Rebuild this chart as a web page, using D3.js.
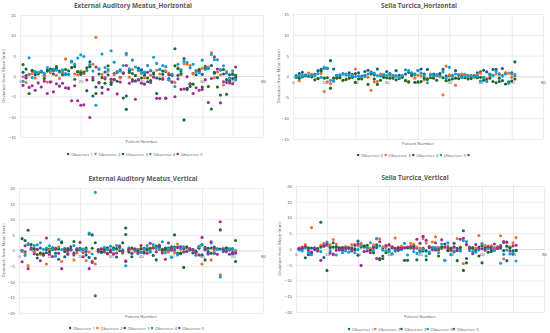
<!DOCTYPE html>
<html>
<head>
<meta charset="utf-8">
<script src="https://cdn.jsdelivr.net/npm/d3@7"></script>
<style>
  body { margin: 0; background: #fff; }
  svg { display: block; font-family: "Open Sans", Lato, sans-serif; }
</style>
</head>
<body>
<script>
// deviation from mean (mm), one value per patient (patient number = index + 1)
const eamH_obs1 = [0.9, 0.1, 0.4, 1.2, 0.3, 0.8, 1.1, 0.2, 1.5, 1.6, 0.5, 1.8, 1.2, 0.9, 0.4, 1.3, 3.6, -0.8, 1.0, 0.4, 0.7, -3.6, 3.5, -4.9, -2.7, 0.5, -2.8, 1.0, 0.3, -2.1, 0.6, 1.1, -0.3, 0.8, -4.9, 1.4, 0.6, -1.2, 1.9, 1.5, 0.2, -1.4, 1.3, 0.8, -0.5, 1.6, 0.4, 1.1, -0.6, 0.3, 6.7, 0.2, 1.3, 4.3, -3.3, -1.9, 0.6, 0.3, 1.1, 0.4, 2.4, 1.9, 2.6, 0.7, -0.4, 1.5, 0.5, -0.9, 0.3, -0.6, 0.2];
const eamH_obs2 = [-0.2, -1.6, 0.3, 0.6, -0.5, 0.9, 1.1, -0.1, -1.5, 0.8, 1.2, 0.2, -0.6, 1.0, 4.2, -2.9, 2.0, 0.5, 0.3, 1.2, 0.6, 1.4, 2.4, 2.9, 9.5, 1.6, 0.4, -0.3, 1.2, -0.8, 0.3, 1.0, -0.5, 0.7, 5.2, -0.3, 1.6, 0.2, 1.3, 0.6, -0.4, 2.6, 0.2, -0.2, 1.4, 0.5, -0.5, 1.3, 0.7, 0.3, -1.6, 2.0, 0.3, 3.0, 2.9, 2.6, 0.5, 1.1, 1.6, 1.9, 2.1, 2.2, 5.7, -0.4, 1.0, 0.3, -2.2, 1.1, -0.5, 0.6, -0.3];
const eamH_obs3 = [2.8, 1.7, -4.3, 1.4, 0.9, 0.5, 1.0, -0.6, 1.2, 1.7, 1.5, 2.3, 1.1, 0.3, 1.6, 0.4, 2.1, 2.3, 1.1, 0.8, 1.0, 2.0, 2.3, -1.0, -4.3, -1.6, -0.4, -1.8, 2.5, -1.6, -0.8, -1.3, 1.5, -5.4, -8.2, 0.9, -0.9, 0.1, -1.0, -0.5, 0.8, -0.5, -1.1, 0.5, -4.3, -0.7, 1.2, -5.4, -1.0, 0.2, 2.5, 1.8, 0.6, -10.8, -3.0, -2.6, -2.0, 1.3, 1.6, -2.7, 1.9, -2.6, -8.1, 0.9, -2.7, -4.7, 1.6, -4.5, -1.2, 0.4, -0.4];
const eamH_obs4 = [-1.3, -0.5, 4.5, -0.4, 1.1, 0.8, 1.2, 0.7, 2.1, 1.3, 1.7, 1.4, 0.9, 1.5, 0.6, 0.5, 3.4, 2.9, 4.4, 5.2, 4.8, 1.3, 2.8, 1.2, -7.2, 1.8, 5.4, 2.1, 1.6, 6.2, 3.4, 0.8, 1.2, 2.6, 5.6, 1.8, 3.9, 2.2, 1.4, 0.9, 1.0, 2.6, 1.4, 4.6, 3.1, 1.6, 2.6, 2.3, -0.9, 0.4, -2.6, 2.9, 1.6, 3.6, 3.3, 2.0, 2.9, 1.2, 0.8, 3.9, 1.6, 1.9, 5.3, 4.0, 4.0, 1.5, 2.5, 0.7, -0.6, 1.3, -0.9];
const eamH_obs5 = [-2.3, -0.4, -2.8, -2.4, -3.5, -1.7, -2.7, -1.3, -4.3, -1.5, -3.9, -1.9, -2.5, -1.8, -2.9, -3.1, -6.1, -2.4, -6.1, -7.2, -7.1, -1.0, -10.2, -0.4, 2.2, -1.7, -4.2, -0.7, -3.3, -0.8, -0.9, -4.4, -1.5, 0.7, 2.6, -1.8, -1.3, -5.7, -0.9, -1.8, -2.0, 0.9, -1.6, -0.3, -5.5, -5.5, -0.8, -5.5, 0.3, -1.5, -5.1, -0.7, -3.3, -3.2, -0.2, -2.0, -4.3, -2.9, -3.5, -3.3, -0.9, -6.5, -0.6, 4.7, 1.7, -6.6, -1.4, -1.6, -1.7, -1.9, 2.2];

const stH_obs1 = [0.2, 0.7, 1.0, 0.3, 0.1, 0.4, 0.5, 1.4, 1.7, 2.0, 1.9, 3.8, 1.8, 0.3, 0.2, 0.6, 0.4, 0.9, 0.5, 0.7, 0.9, 0.1, 1.2, 1.5, 0.9, 0.4, 1.8, 0.4, 0.3, 1.2, 0.7, 0.2, 1.4, 0.3, 0.1, 0.6, 1.0, 0.8, 0.6, 1.5, 1.8, 0.6, 1.7, 0.5, 0.6, 0.4, 0.3, 1.7, 0.1, 0.2, 0.3, 1.4, 0.4, 0.2, 0.5, 0.2, 0.1, 0.3, 0.9, 1.1, 1.5, 1.1, 0.6, 1.7, 1.7, -1.2, 1.9, 0.8, -1.5, 0.9, 3.5];
const stH_obs2 = [-0.1, -1.0, 0.3, 0.2, 0.8, 0.4, 0.2, -0.5, 0.7, -3.6, -1.3, -1.7, -1.2, 0.1, -0.3, -0.9, 0.4, -0.5, 0.3, 1.8, 0.1, -0.4, 0.3, -0.2, -3.3, -1.3, -1.2, 0.6, 0.2, -0.3, 0.3, -0.5, 0.2, -0.3, 0.1, -0.9, -1.3, 0.2, -0.4, 0.3, 0.1, -0.8, -0.5, 0.6, -0.2, 0.2, 0.0, -4.4, 2.5, 0.4, 0.2, -2.1, 0.3, 0.6, 0.5, -0.2, 0.1, 0.3, 0.4, 0.8, -0.3, -0.5, 0.2, 0.3, 0.6, 0.7, 0.3, 0.9, 0.8, -0.2, 0.5];
const stH_obs3 = [-0.2, -0.4, -0.1, 0.2, 0.1, -0.1, -0.8, -0.5, 1.3, -0.4, -0.3, -2.8, -0.4, -0.4, -0.3, -0.9, -0.7, -0.3, -0.2, -1.4, -0.6, -0.6, 0.1, -1.9, 0.6, -0.6, -1.9, -0.9, -0.2, -0.3, -0.4, -0.3, -0.8, -0.5, -0.2, -1.0, -1.3, 0.3, -1.4, -1.3, -1.2, -0.4, -0.7, -0.3, -0.4, -0.9, 0.7, -0.3, -1.0, -0.8, -0.6, -0.4, -0.5, -0.2, -0.3, -0.6, -0.5, -0.1, -0.3, -0.2, -0.9, -0.8, -0.4, -1.2, -1.5, -0.4, -1.0, -1.8, -1.3, -1.1, -0.6];
const stH_obs4 = [-0.1, 0.2, 0.1, 0.4, 0.1, 0.3, 0.2, 0.7, -0.2, 2.2, 2.0, -0.9, -1.0, 0.2, 0.4, 0.7, 0.6, 0.3, 0.1, 0.0, 0.1, -0.1, 0.3, 0.6, 1.1, 0.8, 0.2, 0.1, 0.5, 0.3, 0.6, 0.2, 0.1, -0.3, 0.2, 1.6, 1.4, 0.9, 0.4, 1.4, 0.8, 0.2, -1.5, 0.3, 0.2, 0.4, 0.1, 1.1, -0.3, 2.2, 0.1, 0.6, 0.4, -0.2, 0.1, 0.2, 0.3, -0.1, 0.1, -1.1, -0.2, -1.2, 0.5, 0.2, 1.2, 0.5, 0.1, 0.6, -1.6, 0.6, 0.2];
const stH_obs5 = [];

const eamV_obs1 = [0.1, -0.5, 1.9, 0.4, -0.3, -2.4, 0.8, -1.2, -0.7, 0.5, 0.3, -0.9, -2.8, 2.5, -2.0, 0.6, 1.2, -0.8, 0.4, 0.2, -0.6, -1.4, -2.2, 5.0, -2.5, 0.3, -0.4, 0.6, 0.9, -0.3, 0.4, -2.1, 1.0, -0.8, 5.1, 0.2, -2.0, 0.5, 0.3, -0.6, 0.7, 0.2, -0.5, 0.9, -3.0, 1.3, 0.4, 0.8, -0.2, 0.1, 5.0, 1.1, -1.0, 0.6, 0.9, 0.2, -0.8, -0.4, 0.7, -1.4, 1.0, -0.3, 0.8, -0.9, 0.4, 0.5, -0.3, 0.6, 0.2, -1.0, -3.5];
const eamV_obs2 = [-0.3, -1.0, -4.8, 0.4, -0.5, 0.3, -1.2, -0.9, -4.3, 0.2, 0.6, 0.8, 1.2, -3.5, 0.4, -0.5, 0.1, -3.0, -0.8, 0.6, -0.4, -3.2, -0.5, -3.4, -4.3, 0.3, 0.5, -0.2, 0.3, -0.6, -0.9, 0.5, 1.6, -0.5, -3.2, 0.1, 0.6, -0.3, 0.2, 0.5, -0.7, 0.9, 0.4, 1.1, 0.6, 0.3, -0.2, 0.1, -0.5, 0.4, -0.8, 2.1, 0.3, -0.4, 0.8, 0.3, 0.1, -0.6, 1.4, -4.3, 0.5, 0.7, -3.0, -0.3, 0.6, -7.8, 0.8, 0.4, 0.3, 0.6, 0.1];
const eamV_obs3 = [3.8, 3.2, 6.5, 1.9, 0.6, -1.3, -0.8, -1.1, 0.3, -0.4, 0.9, 0.4, 0.5, 2.8, -0.3, 0.2, 0.3, 2.9, 0.1, 0.6, 0.4, 0.8, 5.3, 0.7, 2.5, 0.2, -0.6, 0.4, -0.9, -0.3, 0.9, 0.6, -0.1, 2.5, 7.2, -0.5, 0.8, 0.4, -0.2, 0.6, -0.8, 0.3, 0.7, -1.6, 1.4, 1.7, 0.2, 0.3, 0.8, 1.2, 1.1, -0.9, -0.8, -5.4, 1.2, 0.4, 0.3, -0.2, 0.9, 1.8, -3.0, 0.7, -0.9, 1.1, 0.5, 6.6, 0.2, 0.9, 0.4, 0.5, 3.2];
const eamV_obs4 = [0.0, -1.6, 2.2, 0.6, 1.6, 1.8, 2.5, 0.4, 0.8, 1.5, 0.9, -1.8, 3.5, 0.3, 0.7, -1.3, 0.4, 1.6, 0.6, 0.3, 0.5, 0.3, 5.6, -1.1, 18.6, -0.5, 0.6, 1.0, 0.3, 1.4, 0.3, 1.6, 1.3, 0.2, -4.9, 0.9, -0.9, 0.2, -1.0, -0.5, 0.4, 1.6, -0.2, 1.9, 1.0, 0.3, 2.8, -0.7, 0.5, -2.2, 0.8, -1.4, 0.7, 1.2, -0.2, 0.5, 0.3, -1.5, 1.2, 2.0, 0.2, -1.2, 2.4, 0.4, 0.3, -8.5, 0.2, 0.1, 0.6, 0.4, -0.5];
const eamV_obs5 = [-3.6, 1.5, -5.8, 0.9, -1.1, 0.4, -3.3, -1.5, 4.0, -1.2, -1.9, 0.6, -0.9, -5.8, 0.3, -1.0, 0.4, -1.4, 0.4, 2.6, -2.0, -0.3, -5.8, -3.8, -14.5, -0.2, 0.4, -0.5, -1.1, 0.2, -1.2, -0.8, 1.2, -0.2, -3.5, 0.4, -0.9, 0.5, -0.6, 1.6, -0.4, -0.9, 2.3, 0.8, -0.4, 1.2, -0.8, -2.8, 2.4, 0.5, 0.1, 0.9, 1.3, -0.5, -0.3, 0.6, 0.2, -0.7, -1.4, 4.2, 0.4, -0.9, 2.8, 0.8, -1.2, 9.2, 0.3, -0.4, -1.2, -0.6, -0.9];

const stV_obs1 = [0.2, 0.5, 0.8, -1.8, 0.3, -0.2, 0.1, 8.5, -2.7, 1.2, 0.7, 2.0, 0.5, 0.3, -0.4, 0.6, 0.2, 0.4, -0.3, 2.5, 1.3, 0.6, 0.4, -0.2, 0.8, 0.5, -3.0, 0.3, 0.6, -0.2, 0.4, 0.2, -0.3, 0.5, 0.4, -3.6, 0.6, 1.2, 0.3, -0.5, 0.2, -0.6, 0.8, 0.4, -0.3, 0.5, 0.2, 1.6, -0.4, 0.3, 1.8, 0.2, -0.5, 5.8, -3.0, 0.4, 0.2, -0.3, 0.6, -4.4, 0.3, 0.5, -0.2, 0.4, 0.2, 0.3, 2.1, -3.7, 0.5, -1.6, -0.4];
const stV_obs2 = [0.3, 0.6, 1.4, 0.2, 6.8, 0.4, 0.3, 1.2, 1.8, 1.5, 1.3, 3.0, 1.6, 0.5, 0.4, 0.8, 0.3, 1.4, 1.1, 1.0, 1.8, 0.9, 0.5, 0.2, 1.3, 3.2, 3.2, 0.7, 0.5, 1.3, 0.8, 3.5, 0.6, 0.9, 0.5, 0.4, 1.8, 1.6, 0.6, 0.3, 3.3, 1.9, 0.4, 2.2, 3.9, 0.5, 0.3, 0.6, 1.0, -0.5, 0.4, 3.3, 0.6, -4.6, 1.3, 0.2, 0.4, 0.3, 4.3, 1.8, 1.1, 0.9, 1.0, 0.4, 0.8, 4.2, -3.1, 2.1, 0.6, 2.0, 3.6];
const stV_obs3 = [-0.2, 0.1, -2.8, 0.4, -1.2, 0.2, 0.1, 0.6, 1.2, -6.8, 0.4, 0.6, 0.8, 0.3, 0.5, 0.2, 0.4, -0.3, 0.1, -2.0, 0.6, 0.9, 1.2, -0.4, -1.2, 1.3, -3.4, -3.0, -1.2, -0.8, -1.5, -0.6, 0.3, 0.2, -3.6, 0.4, 0.3, 0.6, -3.4, -0.8, -0.6, -3.4, -1.4, 0.5, 0.3, -2.2, 0.6, -3.6, -0.5, 0.1, -0.9, -3.7, 0.4, -6.8, -4.4, 0.2, 0.4, -0.6, -2.2, 1.0, 0.4, -1.0, -0.8, -0.4, 0.3, 0.7, -0.5, 0.9, 0.4, -0.6, -0.5];
const stV_obs4 = [-0.3, -0.6, 0.4, -1.1, -1.8, 0.3, -0.4, -0.8, 1.0, 2.2, -0.6, -1.8, -1.9, -0.3, -1.2, -0.6, -1.0, -0.5, -1.2, -0.2, 1.0, -0.8, 0.4, 2.0, -0.5, 3.3, 1.0, -0.4, -0.6, -0.8, -1.6, -0.3, -0.4, -0.2, 1.8, -1.9, 0.6, -0.8, -1.4, -0.9, -0.2, -2.2, -1.0, 0.3, 0.5, -1.1, 1.5, -3.6, 2.0, -1.8, -0.7, -0.4, -0.6, 2.6, 2.4, -0.5, -0.8, -1.0, -0.3, 1.6, -0.3, 0.2, 0.6, -0.5, 0.2, -4.5, -1.7, -0.3, -1.6, -1.2, -3.8];
const stV_obs5 = [0.1, 0.4, 0.8, -0.4, -1.0, 0.2, -0.6, -3.6, 0.9, 1.6, -1.3, -1.6, -0.4, -0.2, 0.1, 0.3, 0.5, -0.6, 1.3, 1.6, -5.2, -0.8, -0.6, -1.2, 0.4, -3.0, 2.3, -2.2, 1.1, 1.3, 0.6, 0.2, -0.3, 0.1, 0.4, 0.6, 0.8, 0.2, 3.1, 1.8, 4.0, 2.8, 0.5, -0.3, 2.0, -0.2, 2.9, 0.6, 0.4, -0.4, 0.7, -0.5, 3.1, 3.4, 1.5, 0.6, -1.5, 1.4, 0.2, 0.1, -0.3, 0.7, 0.4, 1.6, 0.2, 1.1, 2.4, 2.2, -0.6, 1.0, 1.2];

const observerNames = ["Observer 1", "Observer 2", "Observer 3", "Observer 4", "Observer 5"];
const stHNames = ["Observer 2", "Observer 3", "Observer 4", "Observer 5", ""];
const xTicks = [0, 10, 20, 30, 40, 50, 60, 70, 80];
const yTicks15 = [-15, -10, -5, 0, 5, 10, 15];
const yTicks20 = [-20, -15, -10, -5, 0, 5, 10, 15, 20];
const colors = ["#156082", "#e97132", "#196b24", "#0f9ed5", "#a02b93"];

const panels = [
  { title: "External Auditory Meatus_Horizontal", series: [eamH_obs1, eamH_obs2, eamH_obs3, eamH_obs4, eamH_obs5],
    names: observerNames, yTicks: yTicks15, left: 20, right: 263, top: 15, bottom: 137,
    titleX: 133, titleY: 7.5, xTitleY: 143, legendX: 67, legendY: 154, legendStep: 27.4, yLabelX: 5 },
  { title: "Sella Turcica_Horizontal", series: [stH_obs1, stH_obs2, stH_obs3, stH_obs4, stH_obs5],
    names: stHNames, yTicks: yTicks15, left: 293, right: 543, top: 14, bottom: 139,
    titleX: 419, titleY: 7.5, xTitleY: 145, legendX: 357, legendY: 155, legendStep: 27.6, yLabelX: 280 },
  { title: "External Auditory Meatus_Vertical", series: [eamV_obs1, eamV_obs2, eamV_obs3, eamV_obs4, eamV_obs5],
    names: observerNames, yTicks: yTicks20, left: 19, right: 263, top: 188, bottom: 313,
    titleX: 143, titleY: 180.5, xTitleY: 318, legendX: 69, legendY: 328, legendStep: 27.3, yLabelX: 5 },
  { title: "Sella Turcica_Vertical", series: [stV_obs1, stV_obs2, stV_obs3, stV_obs4, stV_obs5],
    names: observerNames, yTicks: yTicks20, left: 296, right: 544, top: 186, bottom: 312,
    titleX: 415, titleY: 179.5, xTitleY: 318, legendX: 348, legendY: 329, legendStep: 26.2, yLabelX: 281 }
];

const svg = d3.select("body").append("svg")
  .attr("width", 550)
  .attr("height", 333);

svg.append("rect").attr("width", 550).attr("height", 333).attr("fill", "#fff");

panels.forEach((p) => {
  const yMax = d3.max(p.yTicks);
  const x = d3.scaleLinear().domain([0, 80]).range([p.left, p.right]);
  const y = d3.scaleLinear().domain([-yMax, yMax]).range([p.bottom, p.top]);
  const g = svg.append("g");

  // horizontal gridlines + y tick labels
  const yAxis = g.append("g")
    .attr("transform", `translate(${p.left},0)`)
    .call(d3.axisLeft(y).tickValues(p.yTicks).tickSize(-(p.right - p.left)).tickPadding(4));
  yAxis.select(".domain").remove();
  yAxis.selectAll("line").attr("stroke", "#d9d9d9").attr("stroke-width", 0.5);
  yAxis.selectAll("text").attr("fill", "#595959").style("font-size", "4.3px");

  // vertical gridlines
  const xGrid = g.append("g")
    .attr("transform", `translate(0,${p.bottom})`)
    .call(d3.axisBottom(x).tickValues(xTicks).tickSize(-(p.bottom - p.top)).tickFormat(""));
  xGrid.select(".domain").remove();
  xGrid.selectAll("line").attr("stroke", "#d9d9d9").attr("stroke-width", 0.5);

  // x tick labels sit on the zero line
  const xAxis = g.append("g")
    .attr("transform", `translate(0,${y(0)})`)
    .call(d3.axisBottom(x).tickValues(xTicks).tickSize(0).tickPadding(4));
  xAxis.select(".domain").attr("stroke", "#d9d9d9").attr("stroke-width", 0.6);
  xAxis.selectAll("text").attr("fill", "#595959").style("font-size", "4.3px");

  // points
  p.series.forEach((vals, si) => {
    g.append("g")
      .selectAll("circle")
      .data(vals)
      .enter()
      .append("circle")
      .attr("cx", (d, i) => x(i + 1))
      .attr("cy", (d) => y(d))
      .attr("r", 1.55)
      .attr("fill", colors[si]);
  });

  g.append("text")
    .attr("x", p.titleX)
    .attr("y", p.titleY)
    .attr("text-anchor", "middle")
    .attr("fill", "#595959")
    .style("font-size", "6.4px")
    .style("font-weight", "bold")
    .text(p.title);

  g.append("text")
    .attr("transform", `translate(${p.yLabelX},${(p.top + p.bottom) / 2}) rotate(-90)`)
    .attr("text-anchor", "middle")
    .attr("fill", "#595959")
    .style("font-size", "4.3px")
    .text("Deviation from Mean (mm)");

  g.append("text")
    .attr("x", (p.left + p.right) / 2)
    .attr("y", p.xTitleY)
    .attr("text-anchor", "middle")
    .attr("fill", "#595959")
    .style("font-size", "4.3px")
    .text("Patient Number");

  const legend = g.append("g")
    .attr("transform", `translate(${p.legendX},${p.legendY})`);
  const items = legend.selectAll("g")
    .data(p.names)
    .enter()
    .append("g")
    .attr("transform", (d, i) => `translate(${i * p.legendStep},0)`);
  items.append("rect")
    .attr("x", 0)
    .attr("y", -1.1)
    .attr("width", 2.2)
    .attr("height", 2.2)
    .attr("fill", (d, i) => colors[i]);
  items.append("text")
    .attr("x", 4)
    .attr("dy", "0.35em")
    .attr("fill", "#595959")
    .style("font-size", "4.3px")
    .text((d) => d);
});
</script>
</body>
</html>
